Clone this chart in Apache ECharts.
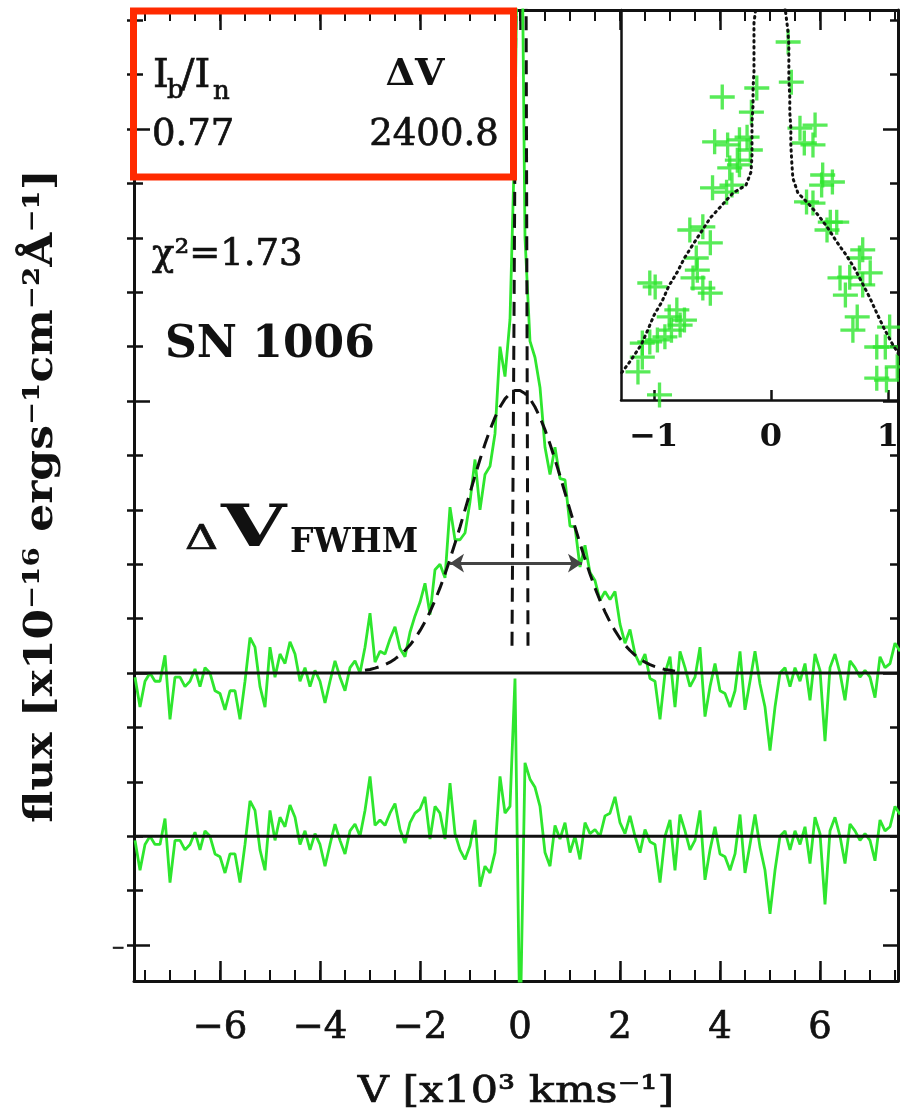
<!DOCTYPE html>
<html>
<head>
<meta charset="utf-8">
<script src="https://cdn.jsdelivr.net/npm/echarts@6.0.0/dist/echarts.min.js"></script>
<style>
  html, body { margin: 0; padding: 0; background: #fff; overflow: hidden; }
  /* a bit wider than the window: the inset runs off the right edge */
  #chart { width: 940px; height: 1111px; }
</style>
</head>
<body>
<div id="chart"></div>
<script>
// spectrum sampled on a regular velocity grid (x10^3 km/s)
const V_START = -7.7;
const V_STEP = 0.1;

// observed flux (upper panel)
const flux = [
  -0.015, -0.125, -0.03, 0.0, -0.03, -0.03, 0.065, -0.17, -0.015, -0.015,
  -0.05, -0.03, 0.015, -0.05, 0.02, 0.0, -0.065, -0.075, -0.135, -0.065,
  -0.065, -0.17, -0.03, 0.13, 0.095, -0.05, -0.125, 0.095, -0.015, 0.07,
  0.035, 0.115, 0.07, -0.03, 0.02, -0.05, 0.01, -0.03, -0.11, -0.03,
  0.045, -0.015, -0.065, 0.02, 0.045, 0.0, 0.095, 0.22, 0.04, 0.08,
  0.07, 0.125, 0.17, 0.09, 0.06, 0.15, 0.21, 0.26, 0.33, 0.215,
  0.38, 0.40, 0.35, 0.61, 0.49, 0.49, 0.515, 0.63, 0.785, 0.60,
  0.73, 0.76, 0.88, 1.20, 1.09, 1.30, 2.0, 3.5, 1.6, 1.22,
  1.16, 1.05, 0.83, 0.73, 0.83, 0.715, 0.71, 0.54, 0.537, 0.39,
  0.47, 0.37, 0.34, 0.267, 0.30, 0.27, 0.30, 0.18, 0.11, 0.16,
  0.07, 0.03, 0.07, -0.02, -0.03, -0.17, 0.0, 0.06, -0.125, 0.08,
  0.02, -0.05, -0.015, 0.095, -0.16, -0.05, 0.035, -0.065, -0.075, -0.125,
  -0.065, 0.08, -0.135, -0.03, 0.08, -0.04, -0.125, -0.285, -0.125, 0.0,
  0.02, -0.05, 0.02, -0.03, 0.035, -0.10, 0.07, 0.01, -0.25, 0.02,
  0.07, 0.0, -0.10, 0.045, 0.02, -0.015, 0.01, -0.015, -0.09, 0.06,
  0.02, 0.035, 0.11, 0.08
];

// residuals (lower panel), same grid
const resid = [
  -0.015, -0.125, -0.03, 0.0, -0.03, -0.03, 0.065, -0.17, -0.015, -0.015,
  -0.05, -0.03, 0.015, -0.05, 0.02, 0.0, -0.065, -0.075, -0.135, -0.065,
  -0.065, -0.17, -0.03, 0.13, 0.095, -0.05, -0.125, 0.095, -0.015, 0.07,
  0.035, 0.115, 0.07, -0.03, 0.02, -0.05, 0.01, -0.03, -0.11, -0.03,
  0.045, -0.015, -0.065, 0.02, 0.045, 0.0, 0.095, 0.22, 0.04, 0.06,
  0.04, 0.085, 0.12, 0.025, -0.025, 0.05, 0.085, 0.10, 0.145, -0.01,
  0.11, 0.085, -0.01, 0.195, 0.01, -0.05, -0.085, -0.035, 0.06, -0.185,
  -0.11, -0.135, -0.06, 0.22, 0.085, 0.11, 0.58, -0.75, 0.27, 0.21,
  0.18, 0.11, -0.06, -0.11, 0.04, -0.01, 0.05, -0.06, 0.0, -0.085,
  0.05, 0.01, 0.025, 0.0, 0.075, 0.085, 0.145, 0.05, 0.01, 0.075,
  0.0, -0.06, 0.025, -0.02, -0.03, -0.17, 0.0, 0.06, -0.125, 0.08,
  0.02, -0.05, -0.015, 0.095, -0.16, -0.05, 0.035, -0.065, -0.075, -0.125,
  -0.065, 0.08, -0.135, -0.03, 0.08, -0.04, -0.125, -0.285, -0.125, 0.0,
  0.02, -0.05, 0.02, -0.03, 0.035, -0.10, 0.07, 0.01, -0.25, 0.02,
  0.07, 0.0, -0.10, 0.045, 0.02, -0.015, 0.01, -0.015, -0.09, 0.06,
  0.02, 0.035, 0.11, 0.08
];
const RESID_OFFSET = -0.6; // residual panel sits 0.6 below the spectrum

// broad component of the fit, from -3.1 in steps of 0.1
const MODEL_START = -3.1;
const broadModel = [
  0.010, 0.013, 0.018, 0.024, 0.031, 0.040, 0.052, 0.066, 0.083, 0.103,
  0.127, 0.156, 0.188, 0.225, 0.267, 0.313, 0.364, 0.419, 0.477, 0.537,
  0.600, 0.663, 0.725, 0.785, 0.842, 0.894, 0.940, 0.978, 1.008, 1.028,
  1.039, 1.039, 1.028, 1.008, 0.978, 0.940, 0.894, 0.842, 0.785, 0.725,
  0.663, 0.600, 0.537, 0.477, 0.419, 0.364, 0.313, 0.267, 0.225, 0.188,
  0.156, 0.127, 0.103, 0.083, 0.066, 0.052, 0.040, 0.031, 0.024, 0.018,
  0.013, 0.010, 0.007
];

// narrow component (peak runs off the top of the frame)
const narrowX = [-0.16, -0.12, -0.08, 0.02, 0.12, 0.14, 0.16];
const narrowY = [0.1, 1.3, 2.6, 3.4, 2.6, 1.3, 0.1];

// FWHM arrow
const fwhmEnds = [-1.4, 1.24];
const fwhmLevel = 0.404;

// inset: data points and model
const insetX = [
  0.148, 0.175, -0.415, -0.12, -0.166, 0.249, 0.378, -0.48, -0.369, -0.268,
  -0.203, 0.286, 0.36, -0.286, -0.268, -0.351, -0.175, 0.443, 0.526, 0.434,
  -0.498, -0.332, -0.378, 0.305, 0.36, 0.508, 0.563, 0.48, -0.692, -0.581,
  -0.517, -0.637, -0.628, -0.665, -0.581, -0.517, 0.785, 0.757, 0.591, 0.674,
  0.849, 0.785, 0.637, 0.738, 0.701, -1.034, -0.988, -0.803, -0.868, -0.738,
  -0.775, -0.849, -0.905, -0.969, -1.034, -1.098, -1.098, -1.135, -0.951, 0.905,
  0.978, 1.015, 0.988, 0.905, 1.08
];
const insetY = [
  0.918, 0.815, 0.777, 0.80, 0.738, 0.697, 0.705, 0.662, 0.654, 0.667,
  0.674, 0.659, 0.654, 0.615, 0.603, 0.595, 0.641, 0.577, 0.559, 0.551,
  0.544, 0.551, 0.533, 0.508, 0.505, 0.456, 0.456, 0.436, 0.436, 0.444,
  0.403, 0.364, 0.333, 0.313, 0.287, 0.274, 0.385, 0.364, 0.313, 0.315,
  0.326, 0.295, 0.269, 0.213, 0.179, 0.30, 0.29, 0.231, 0.213, 0.205,
  0.192, 0.179, 0.162, 0.154, 0.149, 0.146, 0.110, 0.072, 0.013, 0.136,
  0.136, 0.187, 0.051, 0.056, 0.085
];
const insetModelX = [
  -1.274, -1.20, -1.108, -1.052, -0.997, -0.932, -0.872, -0.803, -0.738, -0.669,
  -0.584, -0.517, -0.425, -0.323, -0.212, -0.169, -0.161, -0.161, -0.161, -0.152,
  -0.152, -0.144, -0.144, -0.144, -0.144, 0.0, 0.145, 0.154, 0.154, 0.154,
  0.162, 0.162, 0.171, 0.171, 0.179, 0.188, 0.231, 0.317, 0.41, 0.487,
  0.564, 0.65, 0.718, 0.786, 0.846, 0.905, 0.965, 1.034, 1.085, 1.154, 1.246
];
const insetModelY = [
  0.07, 0.10, 0.141, 0.179, 0.218, 0.251, 0.292, 0.326, 0.364, 0.397,
  0.436, 0.467, 0.497, 0.531, 0.551, 0.585, 0.628, 0.672, 0.713, 0.756,
  0.80, 0.841, 0.885, 0.923, 0.967, 1.3, 0.949, 0.910, 0.864, 0.821,
  0.777, 0.738, 0.697, 0.654, 0.610, 0.569, 0.531, 0.505, 0.472, 0.441,
  0.405, 0.369, 0.336, 0.297, 0.262, 0.223, 0.185, 0.146, 0.121, 0.09, 0.06
];

// axes
const X_MIN = -7.72, X_MAX = 7.56;
const Y_MIN = -1.132, Y_MAX = 2.4375;
const xMajor = [-6, -4, -2, 0, 2, 4, 6];
const xMinor = [-7.5, -7, -6.5, -6, -5.5, -5, -4.5, -4, -3.5, -3, -2.5, -2, -1.5, -1, -0.5,
  0, 0.5, 1, 1.5, 2, 2.5, 3, 3.5, 4, 4.5, 5, 5.5, 6, 6.5, 7, 7.5];
const yMajor = [-1, 0, 1, 2];
const yMinor = [-1, -0.8, -0.6, -0.4, -0.2, 0, 0.2, 0.4, 0.6, 0.8, 1, 1.2, 1.4, 1.6, 1.8, 2, 2.2, 2.4];
const insetTicks = [-1, 0, 1];

const GREEN = '#2ee62e';
const INK = '#111';
const RED = '#ff2a00';
const SERIF = '"DejaVu Serif", "Liberation Serif", serif';

const minus = v => (v < 0 ? '\u2212' + Math.abs(v) : String(v));

const velocity = flux.map((_, i) => +(V_START + i * V_STEP).toFixed(2));
const modelV = broadModel.map((_, i) => +(MODEL_START + i * V_STEP).toFixed(2));

// bare axis, switch parts on as needed
function axis(dim, extra) {
  const base = {
    type: 'value',
    gridIndex: 0,
    min: dim === 'x' ? X_MIN : Y_MIN,
    max: dim === 'x' ? X_MAX : Y_MAX,
    axisLine: { show: false, onZero: false },
    axisTick: { show: false },
    axisLabel: { show: false },
    splitLine: { show: false }
  };
  return Object.assign(base, extra);
}
const frameLine = w => ({ show: true, onZero: false, lineStyle: { color: INK, width: w } });
const ticks = (vals, len, inside, w) => ({
  show: true, inside: inside, length: len, customValues: vals,
  lineStyle: { color: INK, width: w }
});

function text(str, x, y, size, weight, align, extra) {
  const heavy = weight === 'bold';
  return Object.assign({
    type: 'text', x: x, y: y, z: 100,
    style: {
      text: str, fill: INK,
      // thin outline so the plain weight reads like the plotted font
      stroke: heavy ? null : INK, lineWidth: heavy ? 0 : 0.7,
      font: (weight || 'normal') + ' ' + size + 'px ' + SERIF,
      textAlign: align || 'left', align: align || 'left',
      textVerticalAlign: 'middle', verticalAlign: 'middle'
    }
  }, extra || {});
}

const chart = echarts.init(document.getElementById('chart'));

const option = {
  animation: false,
  backgroundColor: '#fff',
  grid: [
    { left: 134, top: 10, width: 764, height: 971 },
    { left: 621, top: 10, width: 302, height: 390 }
  ],
  xAxis: [
    axis('x', {
      position: 'bottom',
      axisLine: frameLine(3),
      axisTick: ticks(xMajor, 20, true, 2.5),
      axisLabel: {
        show: true, customValues: xMajor, margin: 29, formatter: minus,
        color: INK, fontFamily: SERIF, fontSize: 37,
        textBorderColor: INK, textBorderWidth: 0.7
      }
    }),
    axis('x', { position: 'bottom', axisTick: ticks(xMinor, 11, true, 2) }),
    axis('x', { position: 'top', axisLine: frameLine(3), axisTick: ticks(xMajor, 20, true, 2.5) }),
    axis('x', { position: 'top', axisTick: ticks(xMinor, 11, true, 2) }),
    {
      type: 'value', gridIndex: 1, position: 'bottom', min: -1.28, max: 1.30,
      axisLine: frameLine(2.5),
      axisTick: ticks(insetTicks, 10, true, 2.5),
      axisLabel: {
        show: true, customValues: insetTicks, margin: 22, formatter: minus,
        color: INK, fontFamily: SERIF, fontSize: 32, fontWeight: 'bold'
      },
      splitLine: { show: false }
    }
  ],
  yAxis: [
    axis('y', { position: 'left', axisLine: frameLine(3), axisTick: ticks(yMinor, 9, true, 2.5) }),
    axis('y', { position: 'left', axisTick: ticks(yMajor, 16, true, 2.5) }),
    axis('y', { position: 'left', axisTick: ticks(yMinor, 7, false, 2.5) }),
    axis('y', { position: 'right', axisLine: frameLine(3), axisTick: ticks(yMinor, 8, true, 2.5) }),
    axis('y', { position: 'right', axisTick: ticks(yMajor, 15, true, 2.5) }),
    // residual panel: same scale, shifted
    axis('y', { position: 'left', min: Y_MIN - RESID_OFFSET, max: Y_MAX - RESID_OFFSET }),
    {
      type: 'value', gridIndex: 1, position: 'left', min: 0, max: 1,
      axisLine: frameLine(2.5), axisTick: { show: false },
      axisLabel: { show: false }, splitLine: { show: false }
    }
  ],
  series: [
    {
      name: 'flux', type: 'line', xAxisIndex: 0, yAxisIndex: 0,
      data: velocity.map((v, i) => [v, flux[i]]),
      showSymbol: false, z: 2,
      lineStyle: { color: GREEN, width: 2.8 }
    },
    {
      name: 'residual', type: 'line', xAxisIndex: 0, yAxisIndex: 5,
      data: velocity.map((v, i) => [v, resid[i]]),
      showSymbol: false, z: 2,
      lineStyle: { color: GREEN, width: 2.8 }
    },
    {
      name: 'zero', type: 'line', xAxisIndex: 0, yAxisIndex: 0,
      data: [[X_MIN, 0], [X_MAX, 0]], showSymbol: false, z: 3,
      lineStyle: { color: INK, width: 3 }
    },
    {
      name: 'zero resid', type: 'line', xAxisIndex: 0, yAxisIndex: 5,
      data: [[X_MIN, 0], [X_MAX, 0]], showSymbol: false, z: 3,
      lineStyle: { color: INK, width: 3 }
    },
    {
      name: 'broad', type: 'line', xAxisIndex: 0, yAxisIndex: 0,
      data: modelV.map((v, i) => [v, broadModel[i]]),
      showSymbol: false, z: 4,
      lineStyle: { color: INK, width: 3, type: [14, 8] },
      markLine: {
        silent: true, symbol: ['arrow', 'arrow'], symbolSize: 14,
        label: { show: false },
        lineStyle: { color: '#444', width: 3, type: 'solid' },
        data: [[{ coord: [fwhmEnds[0], fwhmLevel] }, { coord: [fwhmEnds[1], fwhmLevel] }]]
      }
    },
    {
      name: 'narrow', type: 'line', xAxisIndex: 0, yAxisIndex: 0,
      data: narrowX.map((v, i) => [v, narrowY[i]]),
      showSymbol: false, z: 4,
      lineStyle: { color: INK, width: 3, type: [14, 8] }
    },
    {
      name: 'inset model', type: 'line', xAxisIndex: 4, yAxisIndex: 6,
      data: insetModelX.map((v, i) => [v, insetModelY[i]]),
      showSymbol: false, z: 4,
      lineStyle: { color: INK, width: 3, type: [1.5, 4.5], cap: 'round' }
    },
    {
      name: 'inset data', type: 'scatter', xAxisIndex: 4, yAxisIndex: 6,
      data: insetX.map((v, i) => [v, insetY[i]]),
      symbol: 'path://M-1.6,-12L1.6,-12L1.6,-1.6L12,-1.6L12,1.6L1.6,1.6L1.6,12L-1.6,12L-1.6,1.6L-12,1.6L-12,-1.6L-1.6,-1.6Z',
      symbolSize: 25, z: 3,
      itemStyle: { color: GREEN }
    }
  ],
  graphic: [
    { type: 'rect', z: 100, shape: { x: 133.5, y: 11, width: 380, height: 166 },
      style: { fill: 'none', stroke: RED, lineWidth: 7 } },
    text('I', 153, 77, 40),
    text('b', 167, 91, 26),
    text('/I', 181, 77, 40),
    text('n', 213, 92, 26),
    text('ΔV', 415, 75, 38, 'bold', 'center'),
    text('0.77', 152, 135, 37),
    text('2400.8', 434, 135, 37, 'normal', 'center'),
    text('χ²=1.73', 152, 255, 37),
    text('SN 1006', 165, 346, 44, 'bold'),
    text('Δ', 185, 540, 34, 'normal', 'left', { scaleX: 1.35 }),
    text('V', 221, 531, 58, 'bold', 'left', { scaleX: 1.45 }),
    text('FWHM', 290, 543, 33, 'bold'),
    text('\u2212', 118, 949, 16, 'normal', 'center'),
    text('V [x10³ kms⁻¹]', 516, 1092, 38, 'normal', 'center', { scaleX: 1.13 }),
    text('flux [x10⁻¹⁶ ergs⁻¹cm⁻²Å⁻¹]', 42, 496, 40, 'bold', 'center',
      { rotation: Math.PI / 2, scaleX: 1.1 })
  ]
};

chart.setOption(option);
</script>
</body>
</html>
